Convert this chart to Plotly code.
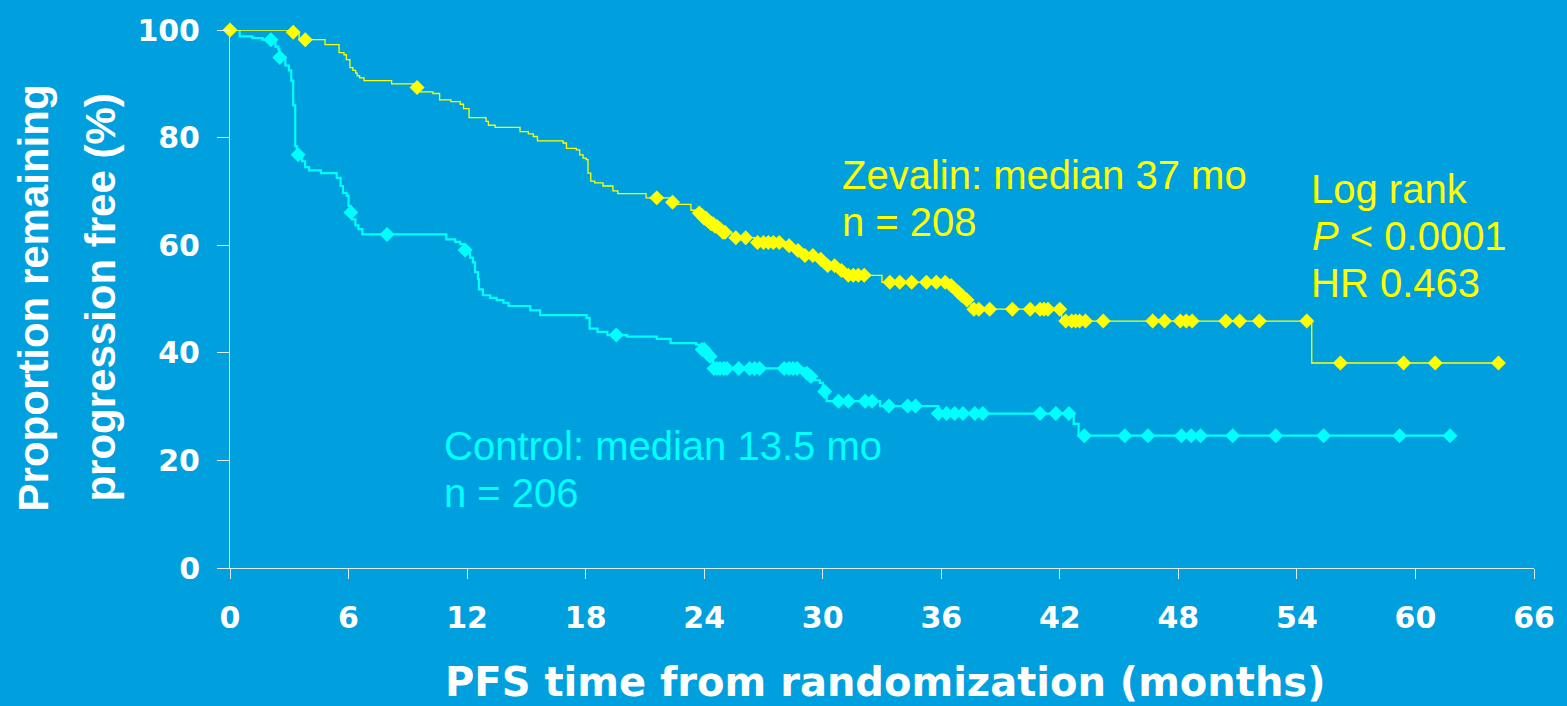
import numpy as np
import plotly.graph_objects as go

# ---------------- data ----------------
# Zevalin: times (months) of each drop and % progression free after it
zev_step_t = [0, 3.1, 3.5, 4.81, 5.52, 5.77, 5.89, 6.07, 6.22, 6.36,
              6.44, 6.56, 6.78, 8.18, 9.45, 9.63, 10.27, 10.61, 11.18, 11.65,
              11.82, 12.1, 12.96, 13.08, 13.42, 14.68, 15.1, 15.35, 15.56, 16.86,
              17.03, 17.53, 17.7, 17.87, 18.03, 18.12, 18.26, 18.46, 18.88, 19.38,
              19.63, 21.06, 22.3, 22.6, 23.33, 23.7, 23.85, 24.0, 24.15, 24.3,
              24.5, 24.7, 24.9, 25.4, 26.55, 28.1, 28.6, 29.0, 29.75, 30.05,
              30.8, 31.15, 33.0, 36.4, 36.75, 36.95, 37.15, 37.5, 42.1, 54.75]
zev_step_s = [100, 99.6, 98.2, 97.3, 95.8, 95.4, 94.5, 93.0, 92.5, 92.0,
              91.5, 91.1, 90.6, 90.0, 89.3, 88.5, 88.2, 87.0, 86.7, 86.2,
              85.4, 83.7, 83.0, 82.3, 81.9, 81.1, 80.7, 80.2, 79.4, 79.0,
              78.0, 77.7, 76.8, 76.2, 75.9, 73.4, 71.9, 71.6, 71.0, 70.1,
              69.6, 68.8, 68.0, 67.6, 66.5, 66.0, 65.5, 65.0, 64.5, 64.0,
              63.5, 63.0, 62.4, 61.4, 60.5, 59.9, 59.0, 58.1, 57.4, 56.2,
              55.3, 54.4, 53.1, 52.5, 51.3, 50.6, 49.8, 48.1, 45.9, 38.1]
# Zevalin censored observations (months)
zev_censor_t = [0, 3.2, 3.81, 9.47, 21.6, 22.4, 23.75, 23.9, 24.0, 24.1,
                24.2, 24.35, 24.45, 24.55, 24.65, 24.8, 24.95, 25.05, 25.6, 26.1,
                26.7, 27.0, 27.25, 27.5, 27.8, 28.3, 28.75, 29.1, 29.5, 29.9,
                30.25, 30.6, 30.95, 31.3, 31.55, 31.8, 32.1, 33.4, 33.9, 34.5,
                35.25, 35.75, 36.2, 36.5, 36.85, 37.05, 37.3, 37.65, 37.9, 38.45,
                39.6, 40.5, 41.0, 41.2, 41.4, 42.0, 42.3, 42.6, 42.8, 43.0,
                43.3, 44.2, 46.7, 47.3, 48.1, 48.4, 48.7, 50.4, 51.1, 52.1,
                54.5, 56.2, 59.4, 61.0, 64.2]

# Control
ctl_step_t = [0, 0.49, 1.13, 1.65, 2.3, 2.45, 2.5, 2.8, 2.98, 3.1,
              3.2, 3.3, 3.38, 3.65, 3.8, 4.0, 4.6, 5.4, 5.6, 5.72,
              5.9, 6.0, 6.1, 6.18, 6.35, 6.5, 6.7, 10.95, 11.4, 11.65,
              11.85, 12.15, 12.3, 12.4, 12.55, 12.6, 12.8, 13.17, 13.5, 13.84,
              14.1, 15.2, 15.7, 18.05, 18.2, 18.6, 19.1, 20.1, 21.6, 22.3,
              23.6, 23.8, 24.05, 24.25, 24.45, 29.1, 29.35, 29.6, 29.85, 30.0,
              30.2, 32.9, 35.85, 42.7, 42.95]
ctl_step_s = [100, 98.8, 98.5, 98.2, 96.9, 96.4, 94.9, 93.4, 92.5, 90.6,
              86.0, 78.4, 76.8, 75.6, 74.5, 73.9, 73.4, 72.5, 71.0, 69.7,
              69.2, 67.3, 66.1, 64.8, 63.7, 63.0, 62.0, 61.1, 60.6, 60.2,
              59.1, 57.7, 56.8, 55.0, 53.7, 51.8, 50.7, 50.2, 49.8, 49.3,
              48.7, 47.9, 47.0, 46.5, 44.5, 43.9, 43.3, 43.0, 42.6, 41.8,
              41.5, 40.6, 39.9, 39.3, 37.1, 36.2, 35.6, 34.9, 34.4, 32.8,
              31.0, 30.1, 28.7, 26.8, 24.6]
ctl_censor_t = [2.07, 2.52, 3.45, 6.12, 7.95, 11.9, 19.55, 23.9, 24.0, 24.15,
                24.3, 24.5, 24.65, 24.8, 25.0, 25.15, 25.75, 26.3, 26.55, 26.8,
                28.05, 28.3, 28.5, 28.7, 29.2, 29.4, 30.1, 30.8, 31.3, 32.15,
                32.5, 33.35, 34.3, 34.7, 35.85, 36.27, 36.68, 37.1, 37.7, 38.1,
                41.0, 41.8, 42.46, 43.24, 45.29, 46.46, 48.16, 48.65, 49.12, 50.75,
                52.93, 55.35, 59.2, 61.75]

x_ticks = [0, 6, 12, 18, 24, 30, 36, 42, 48, 54, 60, 66]
y_ticks = [0, 20, 40, 60, 80, 100]

assert len(zev_step_t) == len(zev_step_s)
assert len(ctl_step_t) == len(ctl_step_s)

BG = "#00A0DE"
YEL = "#FFFF00"
CYA = "#00FFFF"
AX = "rgba(235,242,246,0.95)"


def step_value(step_t, step_s, t):
    st = np.asarray(step_t)
    ss = np.asarray(step_s)
    idx = np.searchsorted(st, np.asarray(t), side="right") - 1
    return ss[np.clip(idx, 0, len(ss) - 1)]


def km_line(step_t, step_s, censor_t):
    end = max(max(censor_t), step_t[-1])
    x = list(step_t) + [end]
    y = list(step_s) + [step_s[-1]]
    return x, y


fig = go.Figure()

for st, ss, ct, col, lw in [
    (ctl_step_t, ctl_step_s, ctl_censor_t, CYA, 2.2),
    (zev_step_t, zev_step_s, zev_censor_t, YEL, 1.3),
]:
    lx, ly = km_line(st, ss, ct)
    fig.add_trace(go.Scatter(x=lx, y=ly, mode="lines", line=dict(color=col, width=lw, shape="hv"),
                             cliponaxis=False, showlegend=False, hoverinfo="skip"))
    fig.add_trace(go.Scatter(x=ct, y=step_value(st, ss, ct), mode="markers",
                             marker=dict(symbol="diamond", size=11.5, color=col, line=dict(width=0)),
                             cliponaxis=False, showlegend=False))

# plot area in pixels
L, R, T, B = 230, 1540, 26, 568
W, H = 1567, 706


def px(xp):
    return (xp - L) / (R - L)


def py(yp):
    return (B - yp) / (B - T)


ann = []
reg = dict(family="Liberation Sans, Arial, sans-serif", size=40)
texts = [
    ("Zevalin: median 37 mo", 843, 172.0, YEL),
    ("n = 208", 843, 219.4, YEL),
    ("Log rank", 1314, 186.0, YEL),
    ("<i>P</i> &lt; 0.0001", 1315, 233.4, YEL),
    ("HR 0.463", 1314, 281.0, YEL),
    ("Control: median 13.5 mo", 443, 445.4, CYA),
    ("n = 206", 443, 492.6, CYA),
]
for t, xp, yp, c in texts:
    ann.append(dict(text=t, x=px(xp), y=py(yp), xref="paper", yref="paper", xanchor="left",
                    yanchor="middle", showarrow=False, font=dict(reg, color=c)))

# y-axis title (two lines)
for t, xp in [("Proportion remaining", 32.5), ("progression free (%)", 99.0)]:
    ann.append(dict(text="<b>" + t + "</b>", x=px(xp), y=py(296), xref="paper", yref="paper",
                    xanchor="center", yanchor="middle", textangle=-90, showarrow=False,
                    font=dict(family="Liberation Sans, Arial, sans-serif", size=42, color="white")))

# x-axis title
ann.append(dict(text="<b>PFS time from randomization (months)</b>", x=px(888), y=py(683),
                xref="paper", yref="paper", xanchor="center", yanchor="middle", showarrow=False,
                font=dict(family="DejaVu Sans, sans-serif", size=40, color="white")))

tickfont = dict(family="DejaVu Sans, sans-serif", size=30, color="white", weight="bold")

fig.update_layout(
    width=W, height=H,
    margin=dict(l=L, r=W - R, t=T, b=H - B, pad=0),
    paper_bgcolor=BG, plot_bgcolor=BG,
    annotations=ann,
    showlegend=False,
    xaxis=dict(range=[0, 66], tickvals=x_ticks, ticktext=[str(v) for v in x_ticks],
               showgrid=False, zeroline=False, showline=True, linecolor=AX, linewidth=1,
               ticks="outside", ticklen=10, tickwidth=1, tickcolor=AX,
               tickfont=tickfont, ticklabelstandoff=13, fixedrange=True),
    yaxis=dict(range=[0, 100], tickvals=y_ticks, ticktext=[str(v) for v in y_ticks],
               showgrid=False, zeroline=False, showline=True, linecolor=AX, linewidth=1,
               ticks="outside", ticklen=12, tickwidth=1, tickcolor=AX,
               tickfont=tickfont, ticklabelstandoff=11, fixedrange=True),
)

fig.write_html(
    "out.html",
    config={"displayModeBar": False},
    post_script="document.body.style.margin='0';document.body.style.padding='0';"
                "document.documentElement.style.overflow='hidden';document.body.style.background='" + BG + "';",
)
